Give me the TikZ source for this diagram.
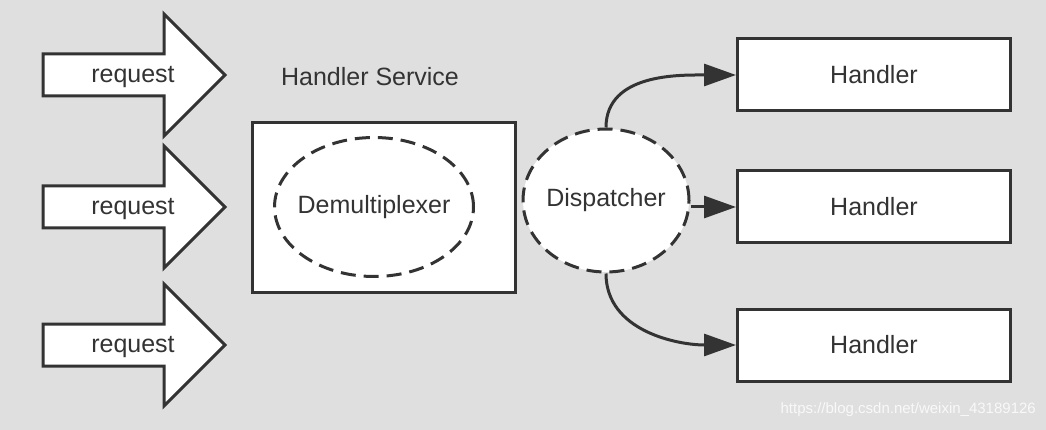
\documentclass[tikz,border=0pt]{standalone}
\usepackage{fontspec}
\setmainfont{Liberation Sans}
\usetikzlibrary{arrows.meta, shapes.geometric, positioning}
\definecolor{bggray}{RGB}{223,223,223}
\definecolor{inkgray}{RGB}{51,51,51}

\begin{document}
\begin{tikzpicture}[x=1pt,y=-1pt,
    txt/.style={font=\fontsize{25}{30}\selectfont, text=inkgray, inner sep=0pt},
    blockarrow/.style={draw=inkgray, fill=white, line width=3pt},
    handlerbox/.style={draw=inkgray, fill=white, line width=3pt, minimum width=273pt, minimum height=72pt, txt},
    dashedell/.style={ellipse, draw=inkgray, line width=3pt, dash pattern=on 15pt off 8pt, txt},
    conn/.style={draw=inkgray, line width=3pt, -{Triangle[length=32pt,width=22pt]}}]
\fill[bggray] (0,0) rectangle (1046,430);
\useasboundingbox (0,0) rectangle (1046,430);
% incoming requests
\foreach \n/\y in {1/75,2/207,3/345} {
    \draw[blockarrow] (43,\y-21) -- (164,\y-21) -- (164,\y-61) -- (225,\y)
        -- (164,\y+61) -- (164,\y+21) -- (43,\y+21) -- cycle;
    \node[txt] (req\n) at (133,\y+2) {request};
}
% handler service
\node[txt] (svclabel) at (370,77) {Handler Service};
\node[draw=inkgray, fill=white, line width=3pt, minimum width=263pt, minimum height=169pt] (svc) at (383.5,207.5) {};
\node[dashedell, inner xsep=-8pt, minimum width=199pt, minimum height=139pt] (demux) at (374,207) {Demultiplexer};
\node[dashedell, inner xsep=-3pt, fill=white, minimum width=166pt, minimum height=143pt] (disp) at (606,200.5) {\raisebox{-2pt}{Dispatcher}};
% handlers
\node[handlerbox] (h1) at (874,75) {Handler};
\node[handlerbox] (h2) at (874,207) {Handler};
\node[handlerbox] (h3) at (874,345) {Handler};
% dispatch
\draw[conn] (disp.north) to[out=90,in=180] (h1.west);
\draw[conn] (disp.east |- h2.west) -- (h2.west);
\draw[conn] (disp.south) to[out=-90,in=180] (h3.west);
% watermark
\node[font=\fontsize{15}{18}\selectfont, text=white, text opacity=0.8, anchor=east, inner sep=0pt] (mark) at (1036,410) {https://blog.csdn.net/weixin\_43189126};
\end{tikzpicture}
\end{document}
